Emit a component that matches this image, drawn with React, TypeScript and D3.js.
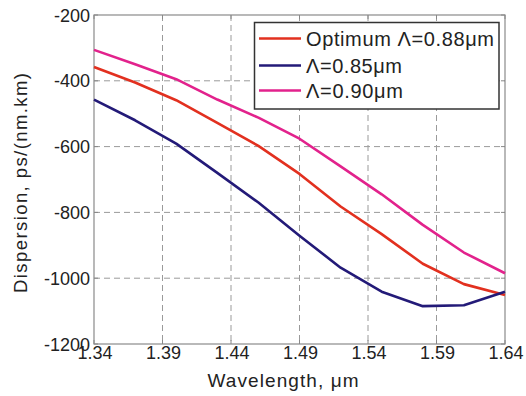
import React from "react";
import * as d3 from "d3";

const wavelengths = [1.34, 1.37, 1.4, 1.43, 1.46, 1.49, 1.52, 1.55, 1.58, 1.61, 1.64];
const optimum088 = [-358, -405, -459, -528, -598, -683, -782, -866, -956, -1018, -1051];
const lambda085 = [-457, -520, -591, -680, -770, -871, -968, -1041, -1085, -1082, -1041];
const lambda090 = [-306, -350, -395, -457, -512, -576, -660, -745, -838, -922, -985];
const xTicks = [1.34, 1.39, 1.44, 1.49, 1.54, 1.59, 1.64];
const yTicks = [-200, -400, -600, -800, -1000, -1200];
const seriesNames = ["Optimum \u039B=0.88\u03BCm", "\u039B=0.85\u03BCm", "\u039B=0.90\u03BCm"];
const seriesColors = ["#e2301f", "#231a78", "#e2228c"];

export default function App() {
  const W = 526, H = 396;
  const left = 94, right = 505, top = 15, bottom = 344;
  const x = d3.scaleLinear().domain([1.34, 1.64]).range([left, right]);
  const y = d3.scaleLinear().domain([-1200, -200]).range([bottom, top]);
  const line = d3.line<number>().x((_, i) => x(wavelengths[i])).y((d) => y(d));
  const series = [optimum088, lambda085, lambda090];
  const font = "'Liberation Sans', Arial, Helvetica, sans-serif";
  const gridColor = "#9a9a9a";
  const legendRows = [38.5, 65.5, 90.5];
  const legendLengths = [188, 96, 97];
  return (
    <svg width={W} height={H} style={{ position: "absolute", left: 0, top: 0, background: "#fff" }} fontFamily={font}>
      <rect x={0} y={0} width={W} height={H} fill="#fff" />
      {xTicks.slice(1, -1).map((t) => (
        <line key={"gx" + t} x1={x(t)} x2={x(t)} y1={top} y2={bottom} stroke={gridColor} strokeWidth={1} strokeDasharray="6,4" />
      ))}
      {yTicks.slice(1, -1).map((t) => (
        <line key={"gy" + t} x1={left} x2={right} y1={y(t)} y2={y(t)} stroke={gridColor} strokeWidth={1} strokeDasharray="6,4" />
      ))}
      {xTicks.map((t) => (
        <g key={"tx" + t}>
          <line x1={x(t)} x2={x(t)} y1={bottom} y2={bottom - 4} stroke="#888" />
          <line x1={x(t)} x2={x(t)} y1={top} y2={top + 4} stroke="#888" />
          <text x={x(t) + 1} y={358.5} fontSize={18} textAnchor="middle" fill="#222">{t.toFixed(2)}</text>
        </g>
      ))}
      {yTicks.map((t) => (
        <g key={"ty" + t}>
          <line x1={left} x2={left + 4} y1={y(t)} y2={y(t)} stroke="#888" />
          <line x1={right} x2={right - 4} y1={y(t)} y2={y(t)} stroke="#888" />
          <text x={90} y={y(t) + 6.5} fontSize={18} textAnchor="end" fill="#222">{t}</text>
        </g>
      ))}
      <rect x={left} y={top} width={right - left} height={bottom - top} fill="none" stroke="#8a8a8a" strokeWidth={1.2} />
      {series.map((s, i) => (
        <path key={"s" + i} d={line(s) || ""} fill="none" stroke={seriesColors[i]} strokeWidth={2.6} strokeLinejoin="round" />
      ))}
      <rect x={254.5} y={22.5} width={244.5} height={86.5} fill="#fff" stroke="#333" strokeWidth={1.5} />
      {seriesNames.map((n, i) => (
        <g key={"l" + i}>
          <line x1={259} x2={301} y1={legendRows[i]} y2={legendRows[i]} stroke={seriesColors[i]} strokeWidth={2.6} />
          <text x={306} y={legendRows[i] + 7.2} fontSize={20} fill="#222" textLength={legendLengths[i]} lengthAdjust="spacing">{n}</text>
        </g>
      ))}
      <text x={283} y={387} fontSize={19} textAnchor="middle" fill="#222" textLength={151} lengthAdjust="spacing">Wavelength, {"\u03BC"}m</text>
      <text transform="translate(27,183) rotate(-90)" fontSize={18.5} textAnchor="middle" fill="#222" textLength={220} lengthAdjust="spacing">Dispersion, ps/(nm.km)</text>
    </svg>
  );
}
